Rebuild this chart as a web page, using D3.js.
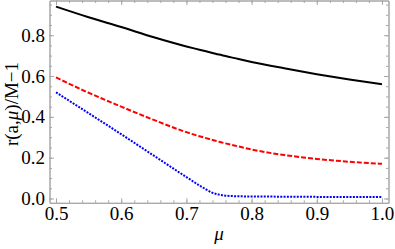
<!DOCTYPE html>
<html>
<head>
<meta charset="utf-8">
<script src="https://cdn.jsdelivr.net/npm/d3@7"></script>
<style>
  body { margin: 0; background: #fff; }
</style>
</head>
<body>
<div class="chart"></div>
<script>
// values
const mu = [0.5, 0.55, 0.6, 0.65, 0.7, 0.72, 0.73, 0.74, 0.75, 0.76, 0.78, 0.8, 0.85, 0.9, 0.95, 1.0];
const solid  = [0.94, 0.888, 0.84, 0.79, 0.745, 0.729, 0.721, 0.713, 0.705, 0.698, 0.683, 0.669, 0.638, 0.609, 0.583, 0.56];
const dashed = [0.593, 0.518, 0.45, 0.385, 0.325, 0.305, 0.296, 0.287, 0.278, 0.27, 0.255, 0.24, 0.213, 0.194, 0.18, 0.17];
const dotted = [0.52, 0.418, 0.315, 0.21, 0.105, 0.064, 0.045, 0.028, 0.019, 0.014, 0.011, 0.01, 0.009, 0.008, 0.007, 0.007];

const xTicks = [0.5, 0.6, 0.7, 0.8, 0.9, 1.0];
const yTicks = [0.0, 0.2, 0.4, 0.6, 0.8];
const xMinor = d3.range(0.5, 1.001, 0.02);
const yMinor = d3.range(0, 0.951, 0.05);

const W = 395, H = 249;
const pLeft = 49.5, pRight = 388.5, pTop = 0.5, pBottom = 202.8;
const serif = "'Liberation Serif', 'Times New Roman', serif";
const fontSize = "19px";

const svg = d3.select(".chart").append("svg")
    .attr("width", W)
    .attr("height", H);

const x = d3.scaleLinear().domain([0.49, 1.01]).range([pLeft, pRight]);
const y = d3.scaleLinear().domain([-0.021, 0.97]).range([pBottom, pTop]);

const fmt = d3.format(".1f");

// frame + inward ticks on all four sides, Mathematica style
function addAxis(axis, tx, ty) {
    const g = svg.append("g")
        .attr("transform", "translate(" + tx + "," + ty + ")")
        .call(axis);
    g.attr("font-family", null).attr("font-size", null);
    g.selectAll("path, line").attr("stroke", "#a6a6a6");
    g.selectAll("text")
        .attr("fill", "#000")
        .style("font-family", serif)
        .style("font-size", fontSize);
    return g;
}

addAxis(d3.axisBottom(x).tickValues(xMinor).tickSize(-2.5).tickSizeOuter(0).tickFormat(""), 0, pBottom);
addAxis(d3.axisTop(x).tickValues(xMinor).tickSize(-2.5).tickSizeOuter(0).tickFormat(""), 0, pTop);
addAxis(d3.axisLeft(y).tickValues(yMinor).tickSize(-2.5).tickSizeOuter(0).tickFormat(""), pLeft, 0);
addAxis(d3.axisRight(y).tickValues(yMinor).tickSize(-2.5).tickSizeOuter(0).tickFormat(""), pRight, 0);

addAxis(d3.axisBottom(x).tickValues(xTicks).tickSize(-4.5).tickSizeOuter(0).tickPadding(4).tickFormat(fmt), 0, pBottom);
addAxis(d3.axisTop(x).tickValues(xTicks).tickSize(-4.5).tickSizeOuter(0).tickFormat(""), 0, pTop);
addAxis(d3.axisLeft(y).tickValues(yTicks).tickSize(-4.5).tickSizeOuter(0).tickPadding(4.5).tickFormat(fmt), pLeft, 0);
addAxis(d3.axisRight(y).tickValues(yTicks).tickSize(-4.5).tickSizeOuter(0).tickFormat(""), pRight, 0);

const line = d3.line()
    .x(d => x(d[0]))
    .y(d => y(d[1]))
    .curve(d3.curveMonotoneX);

const series = [
    {vals: solid,  color: "#000", dash: null},
    {vals: dashed, color: "#f00", dash: "5,2"},
    {vals: dotted, color: "#00f", dash: "2,1.3"}
];

svg.append("g").selectAll("path")
    .data(series)
    .join("path")
    .attr("d", s => line(mu.map((m, i) => [m, s.vals[i]])))
    .attr("fill", "none")
    .attr("stroke", s => s.color)
    .attr("stroke-width", 2)
    .attr("stroke-dasharray", s => s.dash);

// axis labels
svg.append("text")
    .attr("x", 219)
    .attr("y", 240)
    .attr("text-anchor", "middle")
    .style("font-family", serif)
    .style("font-style", "italic")
    .style("font-size", fontSize)
    .text("μ");

const ylab = svg.append("text")
    .attr("transform", "translate(18,104) rotate(-90)")
    .attr("text-anchor", "middle")
    .style("font-family", serif)
    .style("font-size", fontSize);
ylab.append("tspan").text("r(a,");
ylab.append("tspan").style("font-style", "italic").text("μ");
ylab.append("tspan").text(")/M−1");
</script>
</body>
</html>
